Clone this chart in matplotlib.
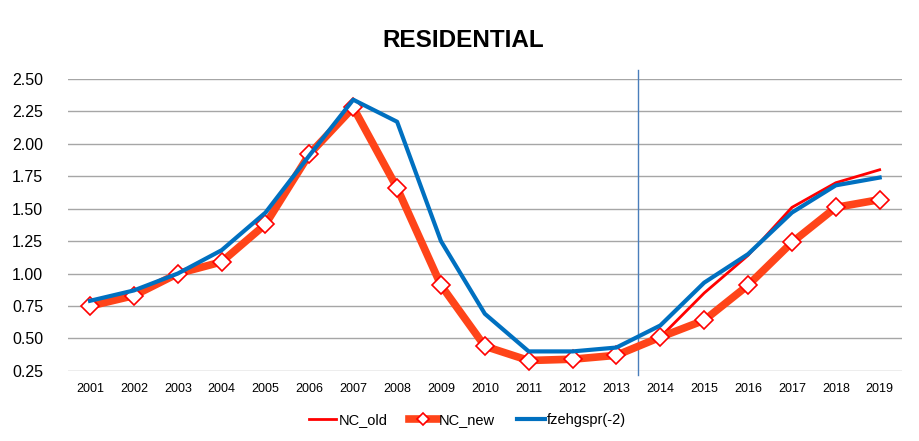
import numpy as np
import matplotlib.pyplot as plt

plt.rcParams['font.family'] = ['Liberation Sans', 'DejaVu Sans']

years = list(range(2001, 2020))

# values
nc_old = [0.75, 0.83, 1.00, 1.09, 1.38, 1.92, 2.28, 1.66, 0.91, 0.44,
          0.33, 0.34, 0.37, 0.51, 0.85, 1.14, 1.51, 1.70, 1.80]
nc_new = [0.75, 0.83, 1.00, 1.09, 1.38, 1.92, 2.28, 1.66, 0.91, 0.44,
          0.33, 0.34, 0.37, 0.51, 0.64, 0.91, 1.24, 1.51, 1.57]
fzehgspr = [0.79, 0.87, 1.00, 1.18, 1.47, 1.91, 2.34, 2.17, 1.25, 0.69,
            0.40, 0.40, 0.43, 0.60, 0.93, 1.15, 1.47, 1.68, 1.74]

forecast_start = 2013.5
yticks = [0.25, 0.50, 0.75, 1.00, 1.25, 1.50, 1.75, 2.00, 2.25, 2.50]

fig = plt.figure(figsize=(9.2, 4.41), dpi=100)
ax = fig.add_axes([0.074, 0.159, 0.906, 0.662])

ax.plot(years, nc_old, color='#FF0000', lw=2.0, label='NC_old', zorder=3)
ax.plot(years, nc_new, color='#FF4419', lw=5.5, marker='D', markersize=9,
        markerfacecolor='white', markeredgecolor='#FF0000', markeredgewidth=1.2,
        label='NC_new', zorder=4)
ax.plot(years, fzehgspr, color='#0070C0', lw=3.0, label='fzehgspr(-2)', zorder=5)

# vertical marker between history and forecast
ax.plot([forecast_start, forecast_start], [0.22, 2.57], color='#4A7EBB', lw=1.0,
        clip_on=False, zorder=2)

ax.set_xlim(2000.5, 2019.5)
ax.set_ylim(0.25, 2.5)
ax.set_xticks(years)
ax.set_xticklabels([str(y) for y in years], fontsize=9)
ax.set_yticks(yticks)
ax.set_yticklabels(['%.2f' % v for v in yticks], fontsize=11.5)
ax.tick_params(length=0, pad=9)
ax.tick_params(axis='y', pad=18)
ax.grid(axis='y', color='#A6A6A6', lw=1.0)
ax.set_axisbelow(True)
for s in ax.spines.values():
    s.set_visible(False)

fig.text(0.503, 0.908, 'RESIDENTIAL', ha='center', va='center',
         fontsize=17.5, fontweight='bold')

fig.legend(loc='center', bbox_to_anchor=(0.508, 0.048), ncol=3, frameon=False,
           fontsize=10.5, handlelength=1.9, handletextpad=0.15, columnspacing=1.5,
           markerscale=0.7)

fig.savefig('out.png', dpi=100)
